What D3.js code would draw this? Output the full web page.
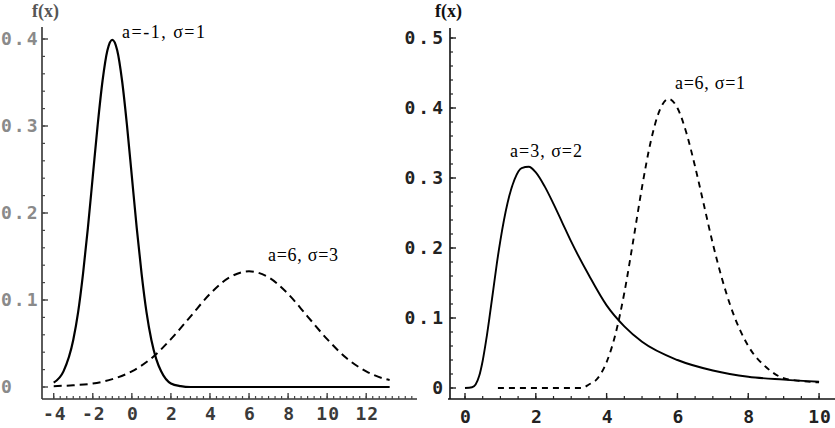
<!DOCTYPE html>
<html>
<head>
<meta charset="utf-8">
<script src="https://cdn.jsdelivr.net/npm/d3@7"></script>
<style>
  html, body { margin: 0; padding: 0; background: #fff; }
  svg { display: block; }
  .tick-lbl { font-family: "DejaVu Sans Mono", monospace; font-weight: bold; font-size: 18px; }
  .ann { font-family: "Liberation Serif", "Times New Roman", serif; font-size: 18px; fill: #000; }
  .fx { font-family: "Liberation Serif", "Times New Roman", serif; font-weight: bold; font-size: 18px; }
</style>
</head>
<body>
<script>
// ---------- data ----------
// Left panel: normal densities
const leftSolidX = [-4,-3.5,-3,-2.75,-2.5,-2.25,-2,-1.75,-1.5,-1.25,-1,-0.75,-0.5,-0.25,0,0.25,0.5,0.75,1,1.25,1.5,2,2.5,3,5,8,10,13.2];
const leftSolidY = [0.005,0.018,0.054,0.086,0.130,0.183,0.242,0.301,0.352,0.387,0.399,0.387,0.352,0.301,0.242,0.183,0.130,0.086,0.054,0.032,0.018,0.004,0.001,0,0,0,0,0];
const leftDashX = [-4,-3,-2,-1,0,1,2,3,4,5,6,7,8,9,10,11,12,13,13.2];
const leftDashY = [0.001,0.002,0.004,0.009,0.018,0.033,0.055,0.081,0.107,0.126,0.133,0.126,0.107,0.081,0.055,0.033,0.018,0.009,0.008];
const leftXTicks = [-4,-2,0,2,4,6,8,10,12];
const leftYTicks = [0,0.1,0.2,0.3,0.4];
const leftLabels = ["a=-1, σ=1", "a=6, σ=3"];

// Right panel: skewed densities
const rightSolidX = [0,0.2,0.3,0.4,0.5,0.6,0.7,0.8,0.9,1,1.2,1.4,1.6,1.8,2,2.25,2.5,2.75,3,3.5,4,4.5,5,6,7,8,9,10];
const rightSolidY = [0,0.001,0.005,0.017,0.039,0.069,0.104,0.141,0.178,0.211,0.264,0.298,0.314,0.316,0.308,0.288,0.263,0.236,0.209,0.161,0.118,0.088,0.066,0.040,0.025,0.016,0.012,0.009];
const rightDashX = [0.93,3.3,3.5,3.75,4,4.25,4.5,4.75,5,5.25,5.5,5.75,6,6.25,6.5,6.75,7,7.5,8,8.5,9,9.5,10];
const rightDashY = [0,0,0.005,0.014,0.037,0.077,0.136,0.210,0.287,0.353,0.397,0.413,0.400,0.365,0.316,0.261,0.206,0.117,0.060,0.030,0.014,0.010,0.008];
const rightXTicks = [0,2,4,6,8,10];
const rightYTicks = [0,0.1,0.2,0.3,0.4,0.5];
const rightLabels = ["a=3, σ=2", "a=6, σ=1"];

// ---------- drawing ----------
const W = 835, H = 428;
const svg = d3.select("body").append("svg").attr("width", W).attr("height", H);

function zip(xs, ys) { return xs.map((x, i) => [x, ys[i]]); }

function panel(cfg) {
  const g = svg.append("g");
  const x = d3.scaleLinear().domain(cfg.xDomain).range(cfg.xRange);
  const y = d3.scaleLinear().domain([0, cfg.yMaxTick]).range([cfg.y0, cfg.yTop]);
  const axisY = cfg.axisY;
  const ax = cfg.xRange[0] + cfg.yAxisOffset;

  // x axis line
  g.append("line").attr("x1", cfg.xRange[0]).attr("x2", cfg.xRange[1])
    .attr("y1", axisY).attr("y2", axisY).attr("stroke", cfg.axisColor).attr("stroke-width", 1.6);
  // y axis line
  g.append("line").attr("x1", ax).attr("x2", ax)
    .attr("y1", cfg.yAxisTop).attr("y2", axisY).attr("stroke", cfg.axisColor).attr("stroke-width", 1.6);

  // x minor/major ticks (pointing up)
  const xMinor = d3.range(cfg.xMinorStart, cfg.xMinorEnd + 1e-9, cfg.xMinorStep);
  g.selectAll(null).data(xMinor).join("line")
    .attr("x1", d => x(d)).attr("x2", d => x(d))
    .attr("y1", axisY).attr("y2", axisY - 3)
    .attr("stroke", cfg.tickColor).attr("stroke-width", 1.2);
  g.selectAll(null).data(cfg.xTicks).join("line")
    .attr("x1", d => x(d)).attr("x2", d => x(d))
    .attr("y1", axisY).attr("y2", axisY - 6)
    .attr("stroke", cfg.tickColor).attr("stroke-width", 1.4);
  g.selectAll(null).data(cfg.xTicks).join("text")
    .attr("class", "tick-lbl")
    .attr("x", d => x(d) + 1).attr("y", cfg.xLabelBase)
    .attr("text-anchor", "middle")
    .attr("fill", cfg.xLabelColor)
    .style("letter-spacing", "1px")
    .text(d => d < 0 ? "-" + Math.abs(d) : String(d));

  // y ticks (pointing right)
  const yMinor = d3.range(0, cfg.yMaxTick + 1e-9, 0.02);
  g.selectAll(null).data(yMinor).join("line")
    .attr("x1", ax).attr("x2", ax + 3)
    .attr("y1", d => y(d)).attr("y2", d => y(d))
    .attr("stroke", cfg.tickColor).attr("stroke-width", 1.2);
  g.selectAll(null).data(cfg.yTicks).join("line")
    .attr("x1", ax).attr("x2", ax + 6)
    .attr("y1", d => y(d)).attr("y2", d => y(d))
    .attr("stroke", cfg.tickColor).attr("stroke-width", 1.4);
  g.selectAll(null).data(cfg.yTicks).join("text")
    .attr("class", "tick-lbl")
    .attr("x", cfg.yLabelX).attr("y", d => y(d) + 6)
    .attr("text-anchor", cfg.yLabelAnchor)
    .attr("fill", cfg.yLabelColor)
    .style("letter-spacing", cfg.yLabelLs)
    .text(d => d === 0 ? "0" : d3.format(".1f")(d));

  // f(x)
  g.append("text").attr("class", "fx").attr("x", cfg.fxX).attr("y", 17)
    .attr("fill", cfg.fxColor).text("f(x)");

  // curves
  const line = d3.line().x(d => x(d[0])).y(d => y(d[1])).curve(d3.curveMonotoneX);
  g.append("path").datum(zip(cfg.solidX, cfg.solidY))
    .attr("d", line).attr("fill", "none").attr("stroke", "#000")
    .attr("stroke-width", cfg.solidW).attr("stroke-linejoin", "round");
  g.append("path").datum(zip(cfg.dashX, cfg.dashY))
    .attr("d", line).attr("fill", "none").attr("stroke", "#000")
    .attr("stroke-width", cfg.dashW).attr("stroke-dasharray", cfg.dash);

  // annotations
  cfg.labels.forEach((t, i) => {
    const p = cfg.labelPos[i];
    g.append("text").attr("class", "ann").attr("x", p[0]).attr("y", p[1])
      .attr("textLength", p[2]).attr("lengthAdjust", "spacing").text(t);
  });
}

panel({
  xDomain: [-4.6, 14.6], xRange: [42, 417], yAxisOffset: 0,
  yMaxTick: 0.4, y0: 387, yTop: 39, yAxisTop: 27, axisY: 399,
  xTicks: leftXTicks, yTicks: leftYTicks,
  xMinorStart: -4, xMinorEnd: 14.4, xMinorStep: 1 / 3,
  axisColor: "#333", tickColor: "#444",
  xLabelBase: 420, xLabelColor: "#3a3a3a",
  yLabelX: 1, yLabelAnchor: "start", yLabelLs: "2px", yLabelColor: "#8a8a8a",
  fxX: 32, fxColor: "#555",
  solidX: leftSolidX, solidY: leftSolidY, dashX: leftDashX, dashY: leftDashY,
  solidW: 2.2, dashW: 2, dash: "8,5",
  labels: leftLabels, labelPos: [[122, 38, 83], [268, 261, 70]]
});

panel({
  xDomain: [-0.48, 10.45], xRange: [448, 835], yAxisOffset: 2,
  yMaxTick: 0.5, y0: 388, yTop: 38, yAxisTop: 28, axisY: 399,
  xTicks: rightXTicks, yTicks: rightYTicks,
  xMinorStart: 0, xMinorEnd: 10, xMinorStep: 0.5,
  axisColor: "#111", tickColor: "#222",
  xLabelBase: 423, xLabelColor: "#222",
  yLabelX: 446, yLabelAnchor: "end", yLabelLs: "3px", yLabelColor: "#222",
  fxX: 435, fxColor: "#111",
  solidX: rightSolidX, solidY: rightSolidY, dashX: rightDashX, dashY: rightDashY,
  solidW: 1.9, dashW: 1.9, dash: "6,5",
  labels: rightLabels, labelPos: [[510, 157, 72], [675, 89, 70]]
});
</script>
</body>
</html>
